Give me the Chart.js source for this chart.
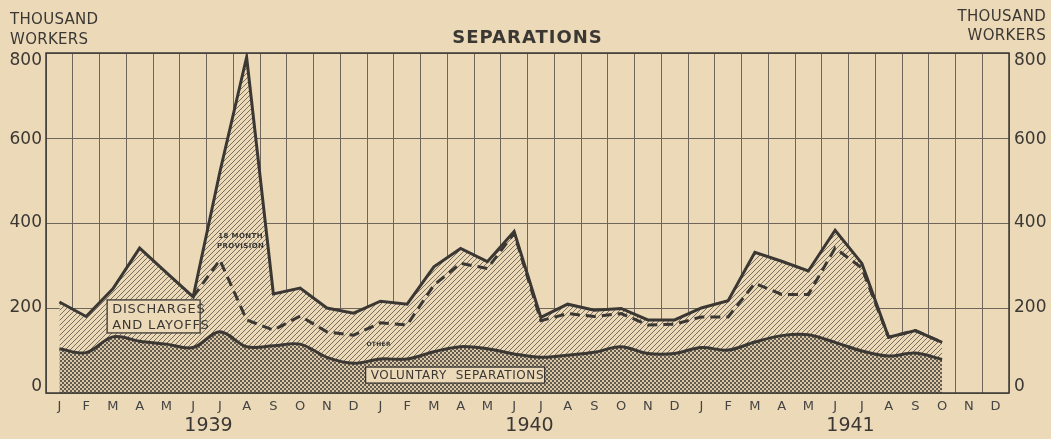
<!DOCTYPE html>
<html>
<head>
<meta charset="utf-8">
<script src="https://cdn.jsdelivr.net/npm/chart.js@4.4.1/dist/chart.umd.min.js"></script>
<style>
    html, body { margin: 0; padding: 0; background: #ecd9b8; }
    #wrap { width: 1051px; height: 439px; position: relative; }
</style>
</head>
<body>
<div id="wrap"><canvas id="separationsChart"></canvas></div>
<script>
// month letters, three years (1939-1941)
const monthLetters = ['J', 'F', 'M', 'A', 'M', 'J', 'J', 'A', 'S', 'O', 'N', 'D'];
const months = [...monthLetters, ...monthLetters, ...monthLetters];
const years = ['1939', '1940', '1941'];

// thousand workers (Jan 1939 - Oct 1941)
const totalSeparations = [
    214, 180, 245, 341, 283, 226, 520, 790, 233, 247, 200, 188,
    216, 209, 297, 340, 309, 380, 178, 209, 195, 199, 172, 172,
    200, 217, 331, 310, 287, 383, 305, 131, 147, 119
];
// top of "other" (dashed line); not drawn before June 1939
const otherTop = [
    null, null, null, null, null, 226, 313, 172, 148, 181, 144, 136,
    165, 160, 254, 305, 293, 376, 170, 187, 180, 187, 160, 162,
    179, 179, 258, 232, 232, 341, 294, 131, 147, 119
];
const voluntarySeparations = [
    104, 95, 132, 122, 115, 107, 144, 109, 111, 115, 84, 70,
    80, 80, 97, 109, 104, 92, 84, 89, 96, 109, 93, 93,
    107, 101, 120, 135, 137, 119, 99, 87, 94, 79
];
const yTicks = [0, 200, 400, 600, 800];

const paper = '#ecd9b8';
const ink = '#3b3834';
const gridInk = '#6e665b';

function makeHatch() {
    const c = document.createElement('canvas');
    c.width = 5; c.height = 5;
    const g = c.getContext('2d');
    g.fillStyle = paper;
    g.fillRect(0, 0, 5, 5);
    g.strokeStyle = 'rgba(70,64,58,0.7)';
    g.lineWidth = 1;
    g.beginPath();
    g.moveTo(-1, 6); g.lineTo(6, -1);
    g.moveTo(-1, 1); g.lineTo(1, -1);
    g.moveTo(4, 6); g.lineTo(6, 4);
    g.stroke();
    return g.createPattern(c, 'repeat');
}

function makeCrossHatch() {
    const c = document.createElement('canvas');
    c.width = 4; c.height = 4;
    const g = c.getContext('2d');
    g.fillStyle = '#d9c6a6';
    g.fillRect(0, 0, 4, 4);
    g.fillStyle = 'rgba(70,64,58,0.8)';
    g.fillRect(0, 0, 2, 2);
    g.fillRect(2, 2, 2, 2);
    return g.createPattern(c, 'repeat');
}

const textFont = '"DejaVu Sans", "Liberation Sans", sans-serif';

function boxedText(ctx, lines, x, y, w, h, size, spacing) {
    ctx.save();
    ctx.fillStyle = paper;
    ctx.fillRect(x, y, w, h);
    ctx.strokeStyle = ink;
    ctx.lineWidth = 1.3;
    ctx.strokeRect(x, y, w, h);
    ctx.fillStyle = ink;
    ctx.font = `${size}px ${textFont}`;
    ctx.letterSpacing = spacing + 'px';
    ctx.textAlign = 'left';
    ctx.textBaseline = 'middle';
    const lh = h / lines.length;
    lines.forEach((t, i) => ctx.fillText(t, x + 5, y + lh * (i + 0.5) + 1));
    ctx.restore();
}

const decorations = {
    id: 'decorations',
    afterDraw(chart) {
        const ctx = chart.ctx;
        const xs = chart.scales.x;
        const ys = chart.scales.y;
        const area = chart.chartArea;

        ctx.save();
        // title
        ctx.fillStyle = ink;
        ctx.font = `bold 18px ${textFont}`;
        ctx.letterSpacing = '1px';
        ctx.textAlign = 'center';
        ctx.textBaseline = 'middle';
        ctx.fillText('SEPARATIONS', (area.left + area.right) / 2, 38);

        // unit labels
        ctx.font = `15px ${textFont}`;
        ctx.letterSpacing = '0.3px';
        ctx.textAlign = 'left';
        ctx.fillText('THOUSAND', 10, 20);
        ctx.fillText('WORKERS', 10, 40);
        ctx.textAlign = 'right';
        ctx.fillText('THOUSAND', 1046, 17);
        ctx.fillText('WORKERS', 1046, 36);

        // y tick labels on both sides, end labels nudged inside the frame
        ctx.font = `17px ${textFont}`;
        ctx.letterSpacing = '0px';
        yTicks.forEach(v => {
            let py = ys.getPixelForValue(v);
            if (v === 800) py += 8;
            if (v === 0) py -= 6;
            if (v === 600) py += 2;
            ctx.textAlign = 'right';
            ctx.fillText(String(v), area.left - 4, py);
            ctx.textAlign = 'left';
            ctx.fillText(String(v), area.right + 5, py);
        });

        // year labels under each block of twelve months
        ctx.font = `19px ${textFont}`;
        ctx.textAlign = 'center';
        years.forEach((yr, i) => {
            const a = xs.getPixelForValue(i * 12 + 5);
            const b = xs.getPixelForValue(i * 12 + 6);
            ctx.fillText(yr, (a + b) / 2 + 2, 426);
        });

        // plot frame
        ctx.strokeStyle = ink;
        ctx.lineWidth = 1.5;
        ctx.strokeRect(area.left, area.top, area.right - area.left, area.bottom - area.top);
        ctx.restore();

        // band labels, placed in data coordinates
        const dx = xs.getPixelForValue(1) + 21;
        const dy = ys.getPixelForValue(219);
        boxedText(ctx, ['DISCHARGES', 'AND LAYOFFS'], dx, dy, 93, 33, 13, 0.8);

        const vx = xs.getPixelForValue(11) + 12;
        const vy = ys.getPixelForValue(61);
        boxedText(ctx, ['VOLUNTARY  SEPARATIONS'], vx, vy, 179, 16, 12, 0.6);

        ctx.save();
        ctx.fillStyle = ink;
        ctx.font = `bold 7px ${textFont}`;
        ctx.letterSpacing = '0.4px';
        ctx.textAlign = 'center';
        ctx.textBaseline = 'middle';
        const px = xs.getPixelForValue(7) - 6;
        ctx.fillText('18 MONTH', px, ys.getPixelForValue(370));
        ctx.fillText('PROVISION', px, ys.getPixelForValue(346));
        ctx.font = `bold 6px ${textFont}`;
        ctx.letterSpacing = '0.3px';
        ctx.textAlign = 'left';
        ctx.fillText('OTHER', xs.getPixelForValue(12) - 14, ys.getPixelForValue(115));
        ctx.restore();
    }
};

const ctx = document.getElementById('separationsChart');
new Chart(ctx, {
    type: 'line',
    data: {
        labels: months,
        datasets: [
            {
                label: 'Voluntary separations',
                data: voluntarySeparations,
                borderColor: ink,
                borderWidth: 3,
                backgroundColor: makeCrossHatch(),
                fill: 'origin',
                tension: 0.35,
                pointRadius: 0
            },
            {
                label: 'Total separations',
                data: totalSeparations,
                borderColor: ink,
                borderWidth: 3,
                backgroundColor: makeHatch(),
                fill: '-1',
                tension: 0,
                pointRadius: 0
            },
            {
                label: 'Other',
                data: otherTop,
                borderColor: ink,
                borderWidth: 3,
                borderDash: [10, 6],
                fill: false,
                tension: 0,
                pointRadius: 0
            }
        ]
    },
    options: {
        responsive: true,
        maintainAspectRatio: false,
        animation: false,
        layout: { padding: { top: 53, left: 0, right: 0, bottom: 0 } },
        plugins: {
            legend: { display: false },
            tooltip: { enabled: false },
            filler: { drawTime: 'beforeDatasetsDraw' }
        },
        scales: {
            x: {
                type: 'category',
                offset: true,
                grid: { offset: true, color: gridInk, lineWidth: 1, drawTicks: false },
                border: { display: false },
                ticks: {
                    color: '#444',
                    font: { family: textFont, size: 13 },
                    padding: 6,
                    maxRotation: 0,
                    autoSkip: false
                },
                afterFit(scale) { scale.height = 46; }
            },
            y: {
                position: 'left',
                min: 0,
                max: 800,
                afterBuildTicks(scale) { scale.ticks = yTicks.map(v => ({ value: v })); },
                grid: { color: gridInk, lineWidth: 1, drawTicks: false },
                border: { display: false },
                ticks: { display: false },
                afterFit(scale) { scale.width = 46; }
            },
            y2: {
                position: 'right',
                min: 0,
                max: 800,
                grid: { display: false },
                border: { display: false },
                ticks: { display: false },
                afterFit(scale) { scale.width = 42; }
            }
        }
    },
    plugins: [decorations]
});
</script>
</body>
</html>
